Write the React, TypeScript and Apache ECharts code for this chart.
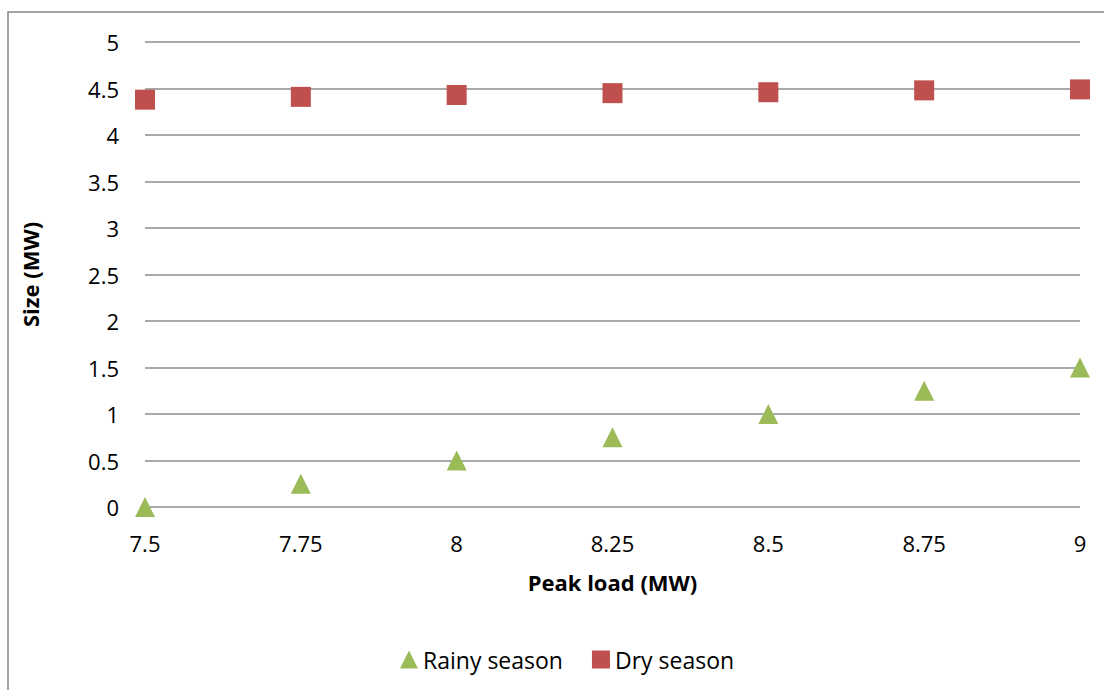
import React, { useEffect, useRef } from "react";
import * as echarts from "echarts";

// Peak load (MW) on the x axis
const peakLoad = [7.5, 7.75, 8, 8.25, 8.5, 8.75, 9];
// Size (MW) for each season
const rainySeason = [0, 0.25, 0.5, 0.75, 1, 1.25, 1.5];
const drySeason = [4.38, 4.41, 4.43, 4.45, 4.46, 4.48, 4.49];

const FONT = "'Open Sans', 'Noto Sans', sans-serif";

export default function App() {
  const ref = useRef<HTMLDivElement>(null);

  useEffect(() => {
    if (!ref.current) return;
    const chart = echarts.init(ref.current, null, { renderer: "svg" });
    const pairs = (ys: number[]) => peakLoad.map((x, i) => [x, ys[i]]);

    chart.setOption({
      animation: false,
      backgroundColor: "#ffffff",
      textStyle: { fontFamily: FONT },
      graphic: [
        {
          type: "rect",
          shape: { x: 8, y: 12, width: 1200, height: 800 },
          style: { fill: "none", stroke: "#878787", lineWidth: 1.5 },
          silent: true,
        },
      ],
      grid: { left: 145, right: 24, top: 42, bottom: 183, containLabel: false },
      xAxis: {
        type: "value",
        min: 7.5,
        max: 9,
        interval: 0.25,
        name: "Peak load (MW)",
        nameLocation: "middle",
        nameGap: 64,
        nameTextStyle: { fontFamily: FONT, fontSize: 22, fontWeight: "bold", color: "#000" },
        axisLine: { show: false },
        axisTick: { show: false },
        splitLine: { show: false },
        axisLabel: { fontFamily: FONT, fontSize: 22, color: "#000", margin: 25 },
      },
      yAxis: {
        type: "value",
        min: 0,
        max: 5,
        interval: 0.5,
        name: "Size (MW)",
        nameLocation: "middle",
        nameGap: 104,
        nameRotate: 90,
        nameTextStyle: { fontFamily: FONT, fontSize: 22, fontWeight: "bold", color: "#000" },
        axisLine: { show: false },
        axisTick: { show: false },
        splitLine: { show: true, lineStyle: { color: "#8c8c8c", width: 1.5 } },
        axisLabel: { fontFamily: FONT, fontSize: 22, color: "#000", margin: 26 },
      },
      legend: {
        left: 395,
        top: 643,
        itemWidth: 18,
        itemHeight: 18,
        itemGap: 29,
        textStyle: { fontFamily: FONT, fontSize: 23, color: "#000" },
        data: [
          { name: "Rainy season", icon: "triangle", itemStyle: { opacity: 1 } },
          { name: "Dry season", icon: "rect", itemStyle: { opacity: 1 } },
        ],
      },
      series: [
        {
          name: "Rainy season",
          type: "scatter",
          symbol: "triangle",
          symbolSize: 20,
          itemStyle: { color: "#9BBB59", opacity: 1 },
          data: pairs(rainySeason),
        },
        {
          name: "Dry season",
          type: "scatter",
          symbol: "rect",
          symbolSize: 20,
          itemStyle: { color: "#C0504D", opacity: 1 },
          data: pairs(drySeason),
        },
      ],
    });

    return () => chart.dispose();
  }, []);

  return (
    <div
      ref={ref}
      style={{ position: "fixed", left: 0, top: 0, width: 1104, height: 690 }}
    />
  );
}
